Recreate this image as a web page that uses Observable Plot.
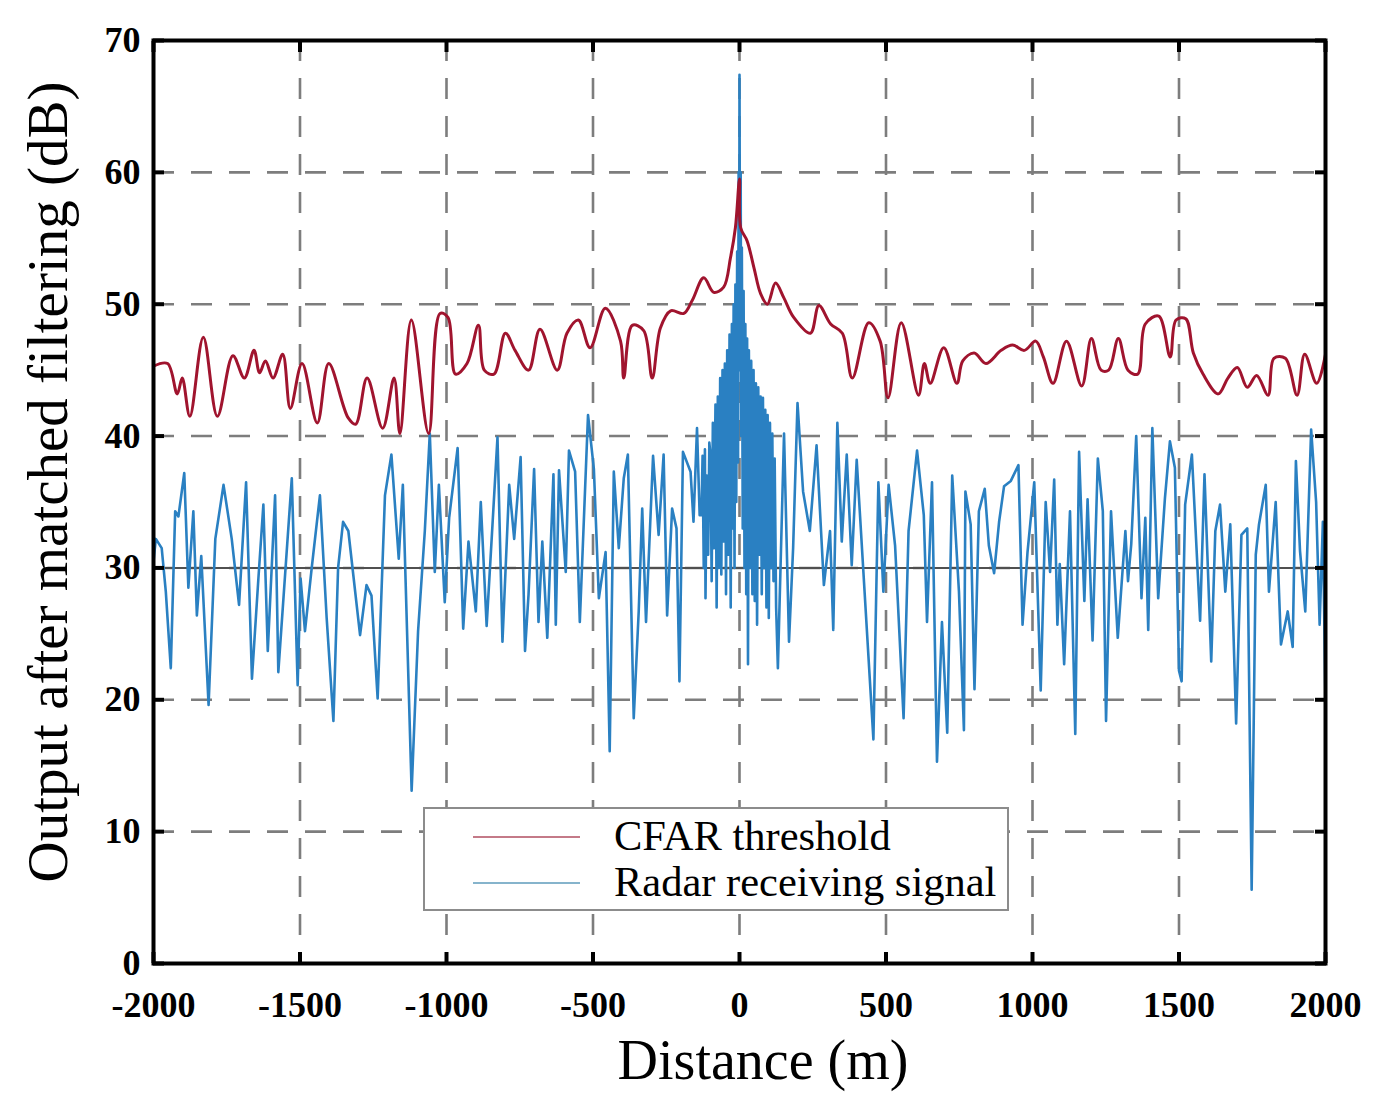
<!DOCTYPE html>
<html>
<head>
<meta charset="utf-8">
<script src="https://cdn.jsdelivr.net/npm/d3@7"></script>
<script src="https://cdn.jsdelivr.net/npm/@observablehq/plot@0.6"></script>
<style>
  body { margin: 0; background: #fff; }
  #wrap { position: relative; width: 1376px; height: 1102px; font-family: "Liberation Serif", "Times New Roman", serif; }
  #overlay { position: absolute; left: 0; top: 0; pointer-events: none; }
</style>
</head>
<body>
<div id="wrap">
  <div id="chart"></div>
  <svg id="overlay" width="1376" height="1102"></svg>
</div>
<script>
// tick positions
const xTicks = [-2000, -1500, -1000, -500, 0, 500, 1000, 1500, 2000];
const yTicks = [0, 10, 20, 30, 40, 50, 60, 70];
const referenceLevel = 30;

// CFAR threshold, [distance m, dB]
const cfarThreshold = [
  [-2000, 45.3], [-1952, 45.5], [-1919, 43.2], [-1902, 44.4], [-1876, 41.5], [-1830, 47.5],
  [-1782, 41.5], [-1729, 46.1], [-1690, 44.4], [-1657, 46.5], [-1638, 44.8], [-1618, 45.7],
  [-1592, 44.4], [-1559, 46.2], [-1533, 42.1], [-1493, 45.5], [-1441, 41.0], [-1402, 45.5],
  [-1336, 41.4], [-1310, 40.9], [-1271, 44.4], [-1218, 40.6], [-1179, 44.4], [-1159, 40.2],
  [-1120, 48.8], [-1061, 40.2], [-1022, 49.3], [-995, 49.0], [-969, 44.7], [-930, 45.5],
  [-891, 48.4], [-871, 45.0], [-838, 44.7], [-799, 47.8], [-766, 46.5], [-720, 45.0],
  [-681, 48.1], [-622, 45.0], [-589, 47.8], [-550, 48.8], [-510, 46.7], [-458, 49.7],
  [-406, 47.2], [-395, 44.4], [-366, 48.4], [-327, 48.0], [-298, 44.4], [-270, 48.2],
  [-235, 49.5], [-190, 49.3], [-161, 50.3], [-122, 52.0], [-88, 50.9], [-54, 51.3],
  [-31, 53.5], [-14, 55.8], [0, 59.5], [4, 55.8], [26, 54.8], [49, 52.8], [72, 50.8],
  [95, 50.0], [123, 51.6], [151, 50.5], [185, 49.0], [242, 47.8], [271, 49.9], [311, 48.5],
  [351, 47.8], [385, 44.4], [441, 48.6], [480, 47.2], [507, 42.9], [552, 48.6], [611, 43.1],
  [631, 45.5], [651, 44.0], [697, 46.7], [742, 44.0], [762, 45.7], [801, 46.3], [841, 45.5],
  [893, 46.5], [932, 46.9], [972, 46.5], [1011, 47.2], [1037, 46.0], [1070, 44.0], [1116, 47.2],
  [1168, 43.8], [1201, 47.4], [1234, 45.0], [1260, 45.0], [1293, 47.4], [1326, 45.0],
  [1359, 44.7], [1385, 48.5], [1431, 49.1], [1470, 46.0], [1490, 48.8], [1523, 48.9],
  [1549, 46.3], [1582, 44.7], [1634, 43.2], [1667, 44.4], [1699, 45.2], [1733, 43.7],
  [1765, 44.6], [1804, 43.1], [1824, 45.9], [1863, 45.9], [1903, 43.1], [1929, 46.2],
  [1970, 44.0], [2000, 46.2]
];

// radar receiving signal, [distance m, dB]
const radarSignal = [
  [-2000, 30.5], [-1992, 32.2], [-1972, 31.5], [-1958, 28.2], [-1941, 22.4], [-1926, 34.3],
  [-1915, 33.9], [-1895, 37.2], [-1881, 28.5], [-1864, 34.3], [-1852, 26.4], [-1837, 30.9],
  [-1812, 19.6], [-1789, 32.2], [-1761, 36.3], [-1733, 32.2], [-1708, 27.2], [-1684, 36.5],
  [-1664, 21.6], [-1642, 29.2], [-1625, 34.8], [-1610, 23.7], [-1585, 35.5], [-1574, 22.1],
  [-1528, 36.8], [-1508, 21.1], [-1498, 29.2], [-1483, 25.2], [-1460, 30.0], [-1432, 35.5],
  [-1409, 26.2], [-1386, 18.4], [-1370, 30.0], [-1353, 33.5], [-1335, 32.8], [-1295, 24.9],
  [-1273, 28.7], [-1256, 27.9], [-1235, 20.1], [-1210, 35.5], [-1188, 38.6], [-1163, 30.7],
  [-1149, 36.3], [-1119, 13.1], [-1097, 25.2], [-1074, 32.8], [-1057, 40.2], [-1040, 29.7],
  [-1026, 36.3], [-1006, 27.4], [-991, 33.8], [-962, 39.1], [-943, 25.4], [-925, 32.0],
  [-900, 26.7], [-883, 35.0], [-863, 25.6], [-843, 33.3], [-826, 39.9], [-809, 24.4],
  [-786, 36.3], [-769, 32.2], [-747, 38.4], [-732, 23.7], [-720, 28.0], [-701, 37.5],
  [-686, 25.9], [-673, 32.0], [-656, 24.7], [-635, 37.1], [-627, 25.7], [-616, 37.4],
  [-593, 29.7], [-582, 38.9], [-561, 37.3], [-545, 25.9], [-517, 41.6], [-497, 37.5],
  [-480, 27.7], [-457, 31.2], [-443, 16.1], [-429, 37.3], [-412, 31.5], [-395, 36.8],
  [-381, 38.6], [-361, 18.6], [-344, 26.7], [-332, 34.5], [-319, 25.9], [-295, 38.5],
  [-276, 32.5], [-259, 38.6], [-247, 26.4], [-230, 34.5], [-215, 33.0], [-205, 21.4],
  [-193, 38.8], [-167, 37.3], [-157, 33.5], [-145, 40.6], [-136, 34.0],
  [-130, 34.0], [-126, 38.5], [-122, 30.0], [-118, 39.0], [-116, 27.7], [-112, 37.0],
  [-107, 31.0], [-103, 39.5], [-99, 38.6], [-95, 29.0], [-91, 41.0], [-87, 31.5], [-82, 42.4],
  [-78, 27.0], [-74, 43.0], [-70, 30.0], [-66, 44.4], [-62, 29.5], [-58, 45.0], [-54, 32.0],
  [-50, 45.5], [-46, 28.0], [-42, 46.5], [-38, 31.0], [-34, 47.7], [-30, 27.0], [-26, 48.5],
  [-23, 33.0], [-20, 50.0], [-17, 30.0], [-14, 51.5], [-11, 35.0], [-8, 54.0], [-5, 38.0],
  [-3, 60.0], [-1, 45.0], [0, 67.4], [2, 48.0], [4, 60.0], [6, 40.0], [8, 54.3], [11, 33.0],
  [14, 51.0], [17, 30.0], [20, 48.5], [23, 28.0], [26, 47.4], [29, 22.7], [32, 46.5],
  [36, 30.0], [40, 45.7], [44, 28.0], [48, 45.0], [52, 27.5], [56, 44.0], [60, 25.7],
  [64, 43.7], [68, 31.0], [72, 43.0], [76, 28.0], [80, 42.9], [84, 30.0], [88, 42.0],
  [92, 27.0], [96, 41.6], [100, 26.2], [104, 41.0], [108, 30.0], [112, 40.2], [116, 29.0],
  [120, 38.3], [125, 27.0], [131, 22.4], [152, 40.2], [169, 24.4],
  [183, 31.5], [198, 42.5], [217, 35.8], [240, 32.8], [263, 39.3], [288, 28.7], [309, 32.8],
  [320, 25.3], [334, 41.0], [349, 32.0], [366, 38.6], [383, 30.2], [400, 38.2], [457, 17.0],
  [474, 36.5], [491, 28.2], [509, 36.3], [531, 31.7], [560, 18.6], [577, 32.8], [606, 38.9],
  [629, 34.0], [640, 25.9], [657, 36.5], [674, 15.3], [691, 25.9], [709, 17.5], [726, 37.0],
  [749, 28.2], [766, 17.7], [771, 35.8], [789, 33.3], [802, 20.8], [817, 34.3], [837, 36.0],
  [851, 31.7], [869, 29.6], [886, 33.5], [903, 36.2], [926, 36.6], [952, 37.8], [966, 25.7],
  [983, 31.2], [1006, 36.5], [1028, 20.7], [1045, 35.0], [1060, 29.7], [1074, 36.7],
  [1085, 25.7], [1093, 30.3], [1108, 22.7], [1128, 34.3], [1146, 17.4], [1159, 38.8],
  [1177, 27.5], [1188, 35.2], [1205, 24.5], [1223, 38.3], [1240, 34.3], [1251, 18.4],
  [1268, 34.3], [1291, 24.7], [1317, 32.8], [1326, 29.0], [1337, 31.8], [1354, 40.0],
  [1372, 27.7], [1385, 33.8], [1395, 25.3], [1409, 40.6], [1429, 27.7], [1452, 35.3],
  [1469, 39.6], [1486, 37.6], [1500, 22.2], [1509, 21.4], [1521, 34.8], [1544, 38.6],
  [1572, 26.0], [1587, 37.1], [1610, 22.9], [1624, 32.8], [1640, 34.8], [1658, 28.2],
  [1675, 33.3], [1695, 18.2], [1713, 32.5], [1733, 33.0], [1748, 5.6], [1762, 31.0],
  [1773, 33.3], [1796, 36.3], [1807, 28.2], [1830, 35.0], [1848, 24.2], [1871, 26.7],
  [1888, 24.0], [1899, 38.1], [1913, 31.3], [1931, 26.7], [1951, 40.5], [1968, 35.0],
  [1980, 25.7], [1991, 33.5], [2000, 19.7]
];

const series = [
  {name: "CFAR threshold", color: "#a0142e", legendColor: "#c47a88"},
  {name: "Radar receiving signal", color: "#2a80c2", legendColor: "#86b4cc"}
];

const toRows = (arr) => arr.map(([d, v]) => ({d, v}));

const gridStyle = {stroke: "#7d7d7d", strokeOpacity: 1, strokeWidth: 2.6, strokeDasharray: "21 17"};
const plain = (t) => String(t);

const chart = Plot.plot({
  width: 1376,
  height: 1102,
  marginLeft: 153,
  marginRight: 51,
  marginTop: 40,
  marginBottom: 139,
  style: {fontFamily: "'Liberation Serif', 'Times New Roman', serif", background: "white", color: "black"},
  x: {domain: [-2000, 2000]},
  y: {domain: [0, 70]},
  marks: [
    Plot.gridX(xTicks.slice(1, -1), gridStyle),
    Plot.gridY(yTicks.slice(1, -1), gridStyle),
    Plot.ruleY([referenceLevel], {stroke: "#505050", strokeWidth: 2}),
    Plot.line(toRows(radarSignal), {x: "d", y: "v", stroke: series[1].color, strokeWidth: 2.6}),
    Plot.line(toRows(cfarThreshold), {x: "d", y: "v", stroke: series[0].color, strokeWidth: 3, curve: "catmull-rom"}),
    Plot.frame({stroke: "black", strokeWidth: 4}),
    Plot.axisX(xTicks, {anchor: "bottom", tickSize: -11, tickPadding: 39, strokeWidth: 4,
      fontSize: 36, fontWeight: "bold", tickFormat: plain, label: null}),
    Plot.axisX(xTicks, {anchor: "top", tickSize: -11, strokeWidth: 4, tickFormat: () => "", label: null}),
    Plot.axisY(yTicks, {anchor: "left", tickSize: -11, tickPadding: 24, strokeWidth: 4,
      fontSize: 36, fontWeight: "bold", tickFormat: plain, label: null}),
    Plot.axisY(yTicks, {anchor: "right", tickSize: -11, strokeWidth: 4, tickFormat: () => "", label: null})
  ]
});

document.getElementById("chart").append(chart);

// axis titles and legend
const overlay = d3.select("#overlay");
const font = "'Liberation Serif', 'Times New Roman', serif";

overlay.append("text")
  .attr("transform", "translate(67,482) rotate(-90)")
  .attr("text-anchor", "middle")
  .attr("font-family", font)
  .attr("font-size", 57)
  .text("Output after matched filtering (dB)");

overlay.append("text")
  .attr("x", 763).attr("y", 1079)
  .attr("text-anchor", "middle")
  .attr("font-family", font)
  .attr("font-size", 56)
  .text("Distance (m)");

const legend = overlay.append("g").attr("transform", "translate(424,808)");
legend.append("rect")
  .attr("width", 584).attr("height", 102)
  .attr("fill", "white").attr("stroke", "#8c8c8c").attr("stroke-width", 2);

series.forEach((s, i) => {
  const yLine = 29 + i * 46;
  legend.append("line")
    .attr("x1", 49).attr("x2", 156).attr("y1", yLine).attr("y2", yLine)
    .attr("stroke", s.legendColor).attr("stroke-width", 2);
  legend.append("text")
    .attr("x", 190).attr("y", yLine + 13)
    .attr("font-family", font)
    .attr("font-size", 42.5)
    .text(s.name);
});
</script>
</body>
</html>
